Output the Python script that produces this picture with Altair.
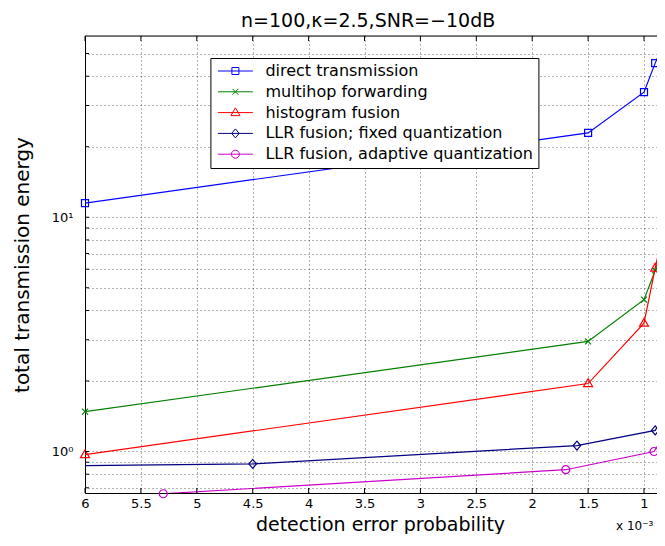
import altair as alt
import pandas as pd

# ---------------- data ----------------
series_names = ["direct transmission", "multihop forwarding", "histogram fusion",
                "LLR fusion; fixed quantization", "LLR fusion, adaptive quantization"]
series_colors = ["#0000ff", "#008000", "#ff0000", "#000080", "#cc00cc"]

direct_x = [6.0, 1.5, 1.0, 0.9, 0.81]
direct_y = [11.5, 22.9, 34.2, 45.5, 56.9]
multihop_x = [6.0, 1.5, 1.0, 0.9, 0.81]
multihop_y = [1.48, 2.95, 4.45, 5.93, 7.36]
hist_x = [6.0, 1.5, 1.0, 0.9, 0.81]
hist_y = [0.97, 1.95, 3.53, 6.07, 9.45]
llr_fixed_x = [6.5, 4.5, 1.6, 0.9, 0.81]
llr_fixed_y = [0.865, 0.885, 1.06, 1.23, 1.44]
llr_adapt_x = [5.3, 1.7, 0.91, 0.81]
llr_adapt_y = [0.66, 0.836, 1.0, 1.19]

x_ticks = [6, 5.5, 5, 4.5, 4, 3.5, 3, 2.5, 2, 1.5, 1]
y_grid = [0.7, 0.8, 0.9, 1, 2, 3, 4, 5, 6, 7, 8, 9, 10, 20, 30, 40, 50]

xs_all = [direct_x, multihop_x, hist_x, llr_fixed_x, llr_adapt_x]
ys_all = [direct_y, multihop_y, hist_y, llr_fixed_y, llr_adapt_y]
rows = []
for name, xs, ys in zip(series_names, xs_all, ys_all):
    for xv, yv in zip(xs, ys):
        rows.append({"series": name, "x": xv, "y": yv})
df = pd.DataFrame(rows)

# ---------------- style ----------------
W, H = 572, 457
FONT = "DejaVu Sans"


def marker_paths(dx=0.0):
    def p(x, y):
        return f"{round(x + dx, 3)},{round(y, 3)}"
    sq = f"M{p(-0.7,-0.7)}L{p(0.7,-0.7)}L{p(0.7,0.7)}L{p(-0.7,0.7)}Z"
    xx = f"M{p(-0.6,-0.6)}L{p(0.6,0.6)}M{p(-0.6,0.6)}L{p(0.6,-0.6)}"
    tri = f"M{p(0,-0.95)}L{p(0.9,0.6)}L{p(-0.9,0.6)}Z"
    dia = f"M{p(0,-0.9)}L{p(0.75,0)}L{p(0,0.9)}L{p(-0.75,0)}Z"
    r = 0.8
    cir = f"M{p(-r,0)}A{r},{r},0,1,0,{p(r,0)}A{r},{r},0,1,0,{p(-r,0)}Z"
    return [sq, xx, tri, dia, cir]


# plot markers: size 100 -> 5px per path unit
plot_paths = marker_paths(0.0)
# legend symbols: same unit, a 35px line (7 units) starting at the symbol box's left edge
legend_paths = ["M-1.1,0L5.9,0" + m for m in marker_paths(2.4)]

xs = alt.Scale(type="linear", domain=[6 - W / 111.8, 6], reverse=True, nice=False, zero=False)
ys = alt.Scale(type="log", domain=[0.665, 59.4], nice=False)
cs = alt.Scale(domain=series_names, range=series_colors)

x_axis = alt.Axis(values=x_ticks, format="~g", grid=True, gridDash=[1, 3], gridColor="#000",
                  gridOpacity=0.6, ticks=False, domainColor="black", domainWidth=1,
                  labelFont=FONT, labelFontSize=13, labelColor="black", labelPadding=4,
                  labelFlush=False, labelOverlap=False,
                  title="detection error probability", titleFont=FONT, titleFontSize=19,
                  titleFontWeight="normal", titleColor="black", titleX=295, titleY=37,
                  titleBaseline="alphabetic")
y_axis = alt.Axis(values=y_grid,
                  labelExpr="datum.value == 1 ? '10\u2070' : (datum.value == 10 ? '10\u00b9' : '')",
                  grid=True, gridDash=[1, 3], gridColor="#000", gridOpacity=0.6, ticks=False,
                  domainColor="black", domainWidth=1, labelFont=FONT, labelFontSize=13,
                  labelColor="black", labelPadding=12, labelOverlap=False,
                  title="total transmission energy", titleFont=FONT, titleFontSize=20,
                  titleFontWeight="normal", titleColor="black", titleX=-57, titleY=H / 2,
                  titleBaseline="alphabetic")

X = alt.X("x:Q", scale=xs, axis=x_axis)
Y = alt.Y("y:Q", scale=ys, axis=y_axis)

lines = alt.Chart(df).mark_line(strokeWidth=1.2, clip=True).encode(
    x=X, y=Y, color=alt.Color("series:N", scale=cs, legend=None)
)

points = alt.Chart(df).transform_filter("datum.x <= 6.0001").mark_point(
    filled=False, size=100, strokeWidth=1.2, opacity=1
).encode(
    x=X, y=Y,
    color=alt.Color("series:N", scale=cs, legend=None),
    shape=alt.Shape("series:N", scale=alt.Scale(domain=series_names, range=plot_paths), legend=None),
)

leg = dict(orient="none", legendX=125.4, legendY=22, title=None, fillColor="white",
           strokeColor="black", padding=5, labelFont=FONT, labelFontSize=16, labelColor="black",
           symbolSize=100, symbolStrokeWidth=1, symbolOpacity=1, rowPadding=4.8,
           labelOffset=34, labelLimit=500)

legend_layer = alt.Chart(df).transform_filter("false").mark_point(
    filled=False, strokeWidth=1, opacity=1
).encode(
    x=X, y=Y,
    color=alt.Color("series:N", scale=cs, legend=alt.Legend(**leg)),
    shape=alt.Shape("series:N", scale=alt.Scale(domain=series_names, range=legend_paths),
                    legend=alt.Legend(**leg)),
)

xt = pd.DataFrame({"x": x_ticks})
yt = pd.DataFrame({"y": y_grid})
xt_bottom = alt.Chart(xt).mark_rule(color="black", strokeWidth=1).encode(
    x=X, y=alt.value(H), y2=alt.value(H - 5))
xt_top = alt.Chart(xt).mark_rule(color="black", strokeWidth=1).encode(
    x=X, y=alt.value(0), y2=alt.value(5))
yt_left = alt.Chart(yt).mark_rule(color="black", strokeWidth=1).encode(
    y=Y, x=alt.value(0), x2=alt.value(4))
top_border = alt.Chart(pd.DataFrame({"b": [0]})).mark_rule(color="black", strokeWidth=1).encode(
    x=alt.value(0), x2=alt.value(W + 20), y=alt.value(0))

exp_label = alt.Chart(pd.DataFrame({"label": ["x 10\u207b\u00b3"]})).mark_text(
    align="left", baseline="alphabetic", font=FONT, fontSize=12, color="black"
).encode(text="label:N", x=alt.value(531), y=alt.value(494))

chart = alt.layer(lines, points, legend_layer, xt_bottom, xt_top, yt_left, top_border,
                  exp_label).resolve_scale(
    color="independent", shape="independent"
).properties(
    width=W, height=H,
    autosize=alt.AutoSizeParams(type="none"),
    padding={"left": 77, "top": 28, "right": 0, "bottom": 41},
    title=alt.TitleParams("n=100,\u03ba=2.5,SNR=\u221210dB", font=FONT, fontSize=19,
                          fontWeight="normal", anchor="start", dx=229, offset=3, color="black"),
).configure_view(strokeWidth=0).configure(background="white")

chart.save("out.html", embed_options={"renderer": "svg", "actions": False})
